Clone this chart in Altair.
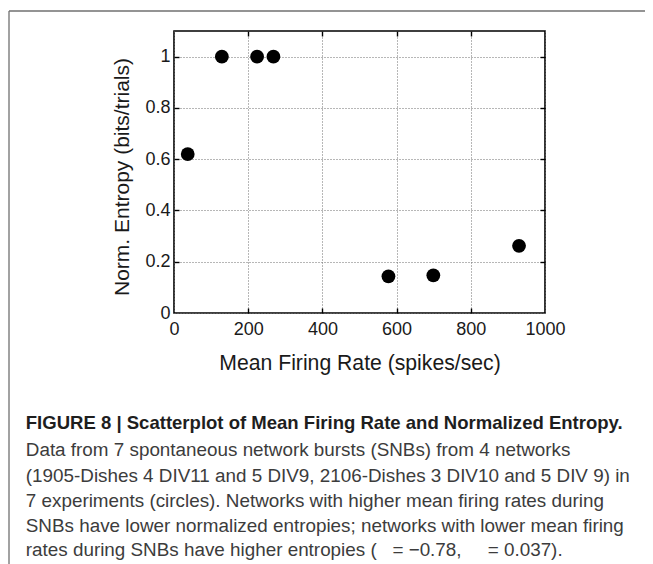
import altair as alt
import pandas as pd

# ---- data ----
firing_rate = [37, 129, 224, 268, 578, 699, 930]
norm_entropy = [0.62, 1.0, 1.0, 1.0, 0.143, 0.147, 0.262]

x_ticks = [0, 200, 400, 600, 800, 1000]
y_ticks = [0, 0.2, 0.4, 0.6, 0.8, 1.0]
x_inner_ticks = [200, 400, 600, 800]
y_inner_ticks = [0.2, 0.4, 0.6, 0.8, 1.0]

x_title = "Mean Firing Rate (spikes/sec)"
y_title = "Norm. Entropy (bits/trials)"

caption_title = "FIGURE 8 | Scatterplot of Mean Firing Rate and Normalized Entropy."
caption_body = [
    "Data from 7 spontaneous network bursts (SNBs) from 4 networks",
    "(1905-Dishes 4 DIV11 and 5 DIV9, 2106-Dishes 3 DIV10 and 5 DIV 9) in",
    "7 experiments (circles). Networks with higher mean firing rates during",
    "SNBs have lower normalized entropies; networks with lower mean firing",
    "rates during SNBs have higher entropies (\u00a0\u00a0\u00a0= \u22120.78,\u00a0\u00a0\u00a0\u00a0\u00a0= 0.037).",
]

df = pd.DataFrame({"rate": firing_rate, "entropy": norm_entropy})

W, H = 371, 282
FONT = "Liberation Sans"

xs = alt.Scale(domain=[0, 1000], nice=False, zero=False)
ys = alt.Scale(domain=[0, 1.1], nice=False, zero=False)

points = alt.Chart(df).mark_circle(size=190, color="#000000", opacity=1).encode(
    x=alt.X("rate:Q", scale=xs, title=x_title,
            axis=alt.Axis(orient="bottom", values=x_ticks, format="d", tickSize=0,
                          domain=False, labelPadding=7, labelFontSize=18, labelFont=FONT,
                          labelFlush=False, labelOverlap=False,
                          labelColor="#1a1a1a", grid=True, gridDash=[1, 2],
                          gridColor="#6e6e6e", gridWidth=1,
                          titleFont=FONT, titleFontSize=21.2, titleFontWeight="normal",
                          titleColor="#1a1a1a", titleBaseline="alphabetic", titleY=56)),
    y=alt.Y("entropy:Q", scale=ys, title=y_title,
            axis=alt.Axis(orient="left", values=y_ticks, format="~g", tickSize=0,
                          domain=False, labelPadding=4, labelFontSize=18, labelFont=FONT,
                          labelFlush=False, labelOverlap=False,
                          labelColor="#1a1a1a", grid=True, gridDash=[1, 2],
                          gridColor="#6e6e6e", gridWidth=1,
                          titleFont=FONT, titleFontSize=21, titleFontWeight="normal",
                          titleColor="#1a1a1a", titleBaseline="alphabetic",
                          titleX=-46, titleY=145.5, titleAngle=270)),
)

tick_style = dict(labels=False, domain=False, grid=False, tickSize=5, tickColor="#000000",
                  tickWidth=1.4, title=None)

ticks_a = alt.Chart(df).mark_point(opacity=0).encode(
    x=alt.X("rate:Q", scale=xs,
            axis=alt.Axis(orient="top", offset=-H, values=x_inner_ticks, **tick_style)),
    y=alt.Y("entropy:Q", scale=ys,
            axis=alt.Axis(orient="right", offset=-W, values=y_inner_ticks, **tick_style)),
)
ticks_b = alt.Chart(df).mark_point(opacity=0).encode(
    x=alt.X("rate:Q", scale=xs,
            axis=alt.Axis(orient="bottom", offset=-H, values=x_inner_ticks, **tick_style)),
    y=alt.Y("entropy:Q", scale=ys,
            axis=alt.Axis(orient="left", offset=-W, values=y_inner_ticks, **tick_style)),
)

frame_top = alt.Chart(df.head(1)).mark_rule(color="#707070", strokeWidth=1.3).encode(
    x=alt.value(-165), x2=alt.value(479), y=alt.value(-20))
frame_left = alt.Chart(df.head(1)).mark_rule(color="#707070", strokeWidth=1.3).encode(
    x=alt.value(-165), y=alt.value(-20), y2=alt.value(533))

cap_x = -148.2
caption_layers = [
    alt.Chart(df.head(1)).mark_text(align="left", baseline="alphabetic", font=FONT,
                                    fontSize=18.55, fontWeight="bold", color="#1e1e1e",
                                    text=caption_title).encode(
        x=alt.value(cap_x), y=alt.value(398.3))
]
body_y = [425, 450.5, 475.7, 500.7, 525]
for line, yy in zip(caption_body, body_y):
    caption_layers.append(
        alt.Chart(df.head(1)).mark_text(align="left", baseline="alphabetic", font=FONT,
                                        fontSize=18.85, color="#3c3c3c", text=line).encode(
            x=alt.value(cap_x), y=alt.value(yy))
    )

chart = alt.layer(points, ticks_a, ticks_b, frame_top, frame_left, *caption_layers).resolve_axis(
    x="independent", y="independent"
).properties(
    width=W, height=H,
    autosize=alt.AutoSizeParams(type="none"),
    padding={"left": 166, "top": 23, "right": 100, "bottom": 251},
    background="#ffffff",
).configure_view(stroke="#000000", strokeWidth=1.6)

chart.save("out.html", embed_options={"renderer": "svg", "actions": False})
